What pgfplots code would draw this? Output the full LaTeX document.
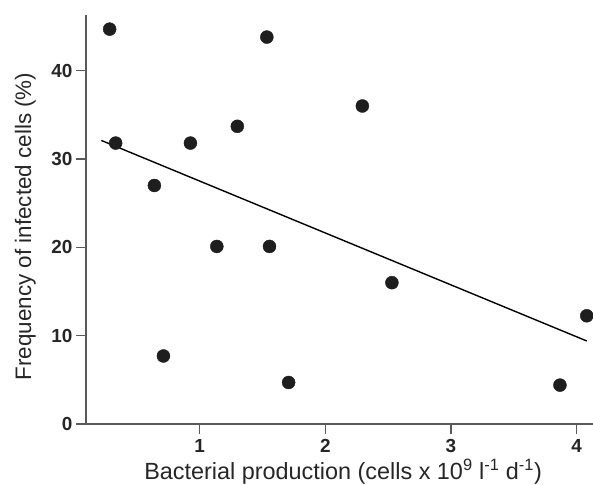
\documentclass[border=0pt]{standalone}
\usepackage{fontspec}
\setmainfont{Liberation Sans}
\usepackage{pgfplots}
\pgfplotsset{compat=1.18}
\definecolor{axgray}{HTML}{5A5A5A}
\definecolor{dotblack}{HTML}{1E1E1E}
\begin{document}
\begin{tikzpicture}
\begin{axis}[
    scale only axis,
    width=507bp, height=409bp,
    xmin=0.096, xmax=4.13,
    ymin=0, ymax=46.3,
    axis x line*=bottom,
    axis y line*=left,
    axis line style={draw=axgray, line width=1.2bp},
    xtick={1,2,3,4},
    ytick={0,10,20,30,40},
    tick align=outside,
    major tick length=10bp,
    tick style={draw=axgray, line width=1.2bp},
    /pgf/number format/assume math mode=true,
    ticklabel style={font=\bfseries\fontsize{19}{19}\selectfont, text=black!85},
    xticklabel style={inner sep=2bp, yshift=-3bp},
    xlabel={Bacterial production (cells x 10\textsuperscript{9} l\textsuperscript{-1} d\textsuperscript{-1})},
    ylabel={Frequency of infected cells (\%)},
    xlabel style={font=\fontsize{23.5}{23.5}\selectfont, text=black!85, inner sep=0pt,
        at={(axis description cs:0.507,-0.1369)}, anchor=base},
    ylabel style={font=\fontsize{22.5}{22.5}\selectfont, text=black!85, inner sep=0pt,
        at={(axis description cs:-0.108,0.483)}, anchor=base},
    clip=false,
]
\addplot[only marks, mark=*, mark size=6.5bp, color=dotblack]
    coordinates {
    (0.284,44.7) (0.332,31.8) (0.64,27.0) (0.712,7.7) (0.927,31.8)
    (1.137,20.1) (1.30,33.7) (1.535,43.8) (1.556,20.1) (1.708,4.7)
    (2.295,36.0) (2.53,16.0) (3.867,4.4) (4.08,12.25)
    };
\addplot[black, line width=1.4bp]
    coordinates {(0.218,32.1) (4.08,9.4)};
\end{axis}
\pgfresetboundingbox
\path (current axis.south west) ++(-86bp,-61bp) rectangle ++(593bp,485bp);
\end{tikzpicture}
\end{document}
